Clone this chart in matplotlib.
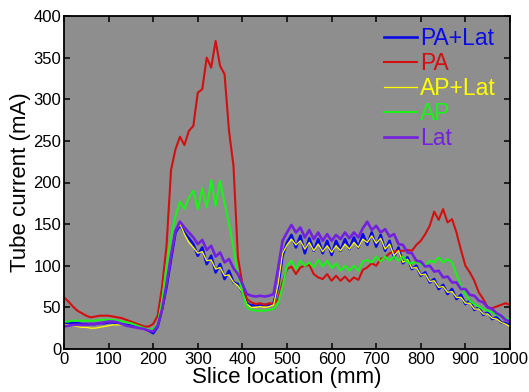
import numpy as np
import matplotlib
matplotlib.use("Agg")
import matplotlib.pyplot as plt

# Slice location (mm)
slice_mm = list(range(0, 1001, 10))

pa_lat = [30, 31, 31, 31, 30, 30, 30, 30, 31, 31,
          32, 32, 31, 30, 29, 28, 27, 26, 25, 22,
          19, 27, 48, 75, 108, 140, 149, 140, 133, 126,
          112, 122, 102, 112, 92, 102, 84, 94, 80, 78,
          68, 55, 52, 53, 52, 53, 52, 55, 75, 112,
          128, 137, 122, 136, 115, 133, 118, 132, 115, 130,
          113, 130, 118, 132, 120, 134, 122, 138, 125, 140,
          123, 137, 118, 130, 110, 122, 103, 110, 96, 100,
          88, 92, 80, 84, 72, 77, 66, 72, 60, 65,
          54, 58, 47, 50, 41, 44, 36, 38, 32, 31,
          29]

pa = [62, 57, 51, 46, 43, 40, 38, 39, 40, 40,
      40, 39, 38, 37, 35, 33, 31, 29, 27, 27,
      30, 40, 75, 125, 215, 240, 255, 245, 262, 268,
      308, 312, 350, 338, 370, 340, 330, 262, 220, 110,
      78, 60, 56, 54, 55, 53, 55, 54, 60, 80,
      96, 99, 90, 98, 100, 101, 90, 86, 84, 90,
      82, 88, 82, 87, 81, 86, 83, 95, 98, 103,
      100, 108, 110, 115, 117, 118, 118, 119, 118, 125,
      130, 138, 148, 165, 155, 168, 152, 156, 140, 119,
      100, 92, 82, 68, 60, 50, 49, 51, 53, 55,
      53]

ap_lat = [29, 29, 28, 27, 26, 26, 25, 25, 26, 27,
          28, 29, 29, 29, 28, 27, 26, 25, 25, 23,
          22, 29, 50, 80, 112, 142, 150, 138, 128, 122,
          115, 117, 106, 107, 96, 98, 88, 89, 80, 76,
          68, 54, 50, 50, 51, 50, 51, 53, 78, 115,
          125, 132, 125, 130, 120, 128, 118, 126, 117, 124,
          116, 124, 118, 126, 120, 128, 122, 132, 128, 136,
          127, 133, 120, 126, 112, 118, 104, 108, 97, 98,
          89, 90, 81, 82, 74, 75, 68, 69, 62, 62,
          55, 55, 48, 48, 42, 42, 37, 36, 32, 30,
          27]

ap = [33, 33, 34, 34, 34, 34, 34, 34, 35, 35,
      35, 35, 34, 33, 32, 31, 29, 27, 25, 23,
      24, 30, 58, 100, 135, 160, 177, 168, 182, 190,
      168, 193, 170, 203, 172, 202, 175, 150, 122, 90,
      68, 50, 47, 46, 46, 46, 47, 48, 55, 75,
      100, 106, 96, 106, 100, 104, 98, 107, 99, 106,
      97, 103, 94, 100, 94, 100, 94, 105, 107, 104,
      111, 105, 111, 106, 111, 106, 111, 104, 103, 105,
      102, 100, 106, 104, 110, 104, 108, 104, 90, 75,
      66, 58, 54, 51, 48, 46, 44, 41, 39, 37,
      35]

lat = [27, 28, 29, 29, 29, 29, 30, 30, 31, 32,
       33, 33, 32, 30, 28, 27, 26, 25, 24, 22,
       21, 28, 48, 78, 112, 142, 153, 146, 140, 134,
       126, 131, 119, 124, 111, 116, 104, 108, 97, 90,
       78, 66, 64, 63, 64, 63, 64, 66, 97, 130,
       140, 149, 140, 146, 134, 143, 132, 140, 130, 138,
       130, 137, 132, 140, 133, 140, 134, 145, 153, 143,
       148, 140, 144, 135, 138, 126, 125, 116, 115, 106,
       105, 99, 100, 93, 94, 86, 87, 80, 80, 72,
       72, 65, 64, 58, 56, 50, 48, 43, 40, 35,
       33]

labels = ["PA+Lat", "PA", "AP+Lat", "AP", "Lat"]
series = [pa_lat, pa, ap_lat, ap, lat]
colors = ["#0a0ae6", "#d40f0f", "#ffff00", "#1af21a", "#7420e0"]
widths = [1.9, 1.5, 0.9, 1.5, 1.9]

x_ticks = [0, 100, 200, 300, 400, 500, 600, 700, 800, 900, 1000]
y_ticks = [0, 50, 100, 150, 200, 250, 300, 350, 400]

plt.rcParams['font.family'] = ['Liberation Sans', 'DejaVu Sans']

fig = plt.figure(figsize=(5.29, 3.92), dpi=100)
ax = fig.add_axes([64/529, 1 - 349/392, 446/529, 333/392])
ax.set_facecolor("#8e8e8e")

for lab, ys, c, w in zip(labels, series, colors, widths):
    ax.plot(slice_mm, ys, color=c, lw=w, label=lab)

ax.set_xlim(0, 1000)
ax.set_ylim(0, 400)
ax.set_xticks(x_ticks)
ax.set_yticks(y_ticks)
ax.tick_params(direction='in', length=4, width=1.1, top=True, right=True,
               labelsize=12, pad=2, colors='black')
for s in ax.spines.values():
    s.set_linewidth(1.3)

ax.set_xlabel("Slice location (mm)", fontsize=16, labelpad=0)
ax.set_ylabel("Tube current (mA)", fontsize=16, labelpad=2)

leg = ax.legend(loc='upper right', bbox_to_anchor=(0.969, 0.968), frameon=False,
                fontsize=16.5, handlelength=1.44, handletextpad=0.17,
                labelspacing=0.09, borderpad=0, borderaxespad=0)
for txt, c in zip(leg.get_texts(), colors):
    txt.set_color(c)

fig.savefig("out.png", dpi=100)
